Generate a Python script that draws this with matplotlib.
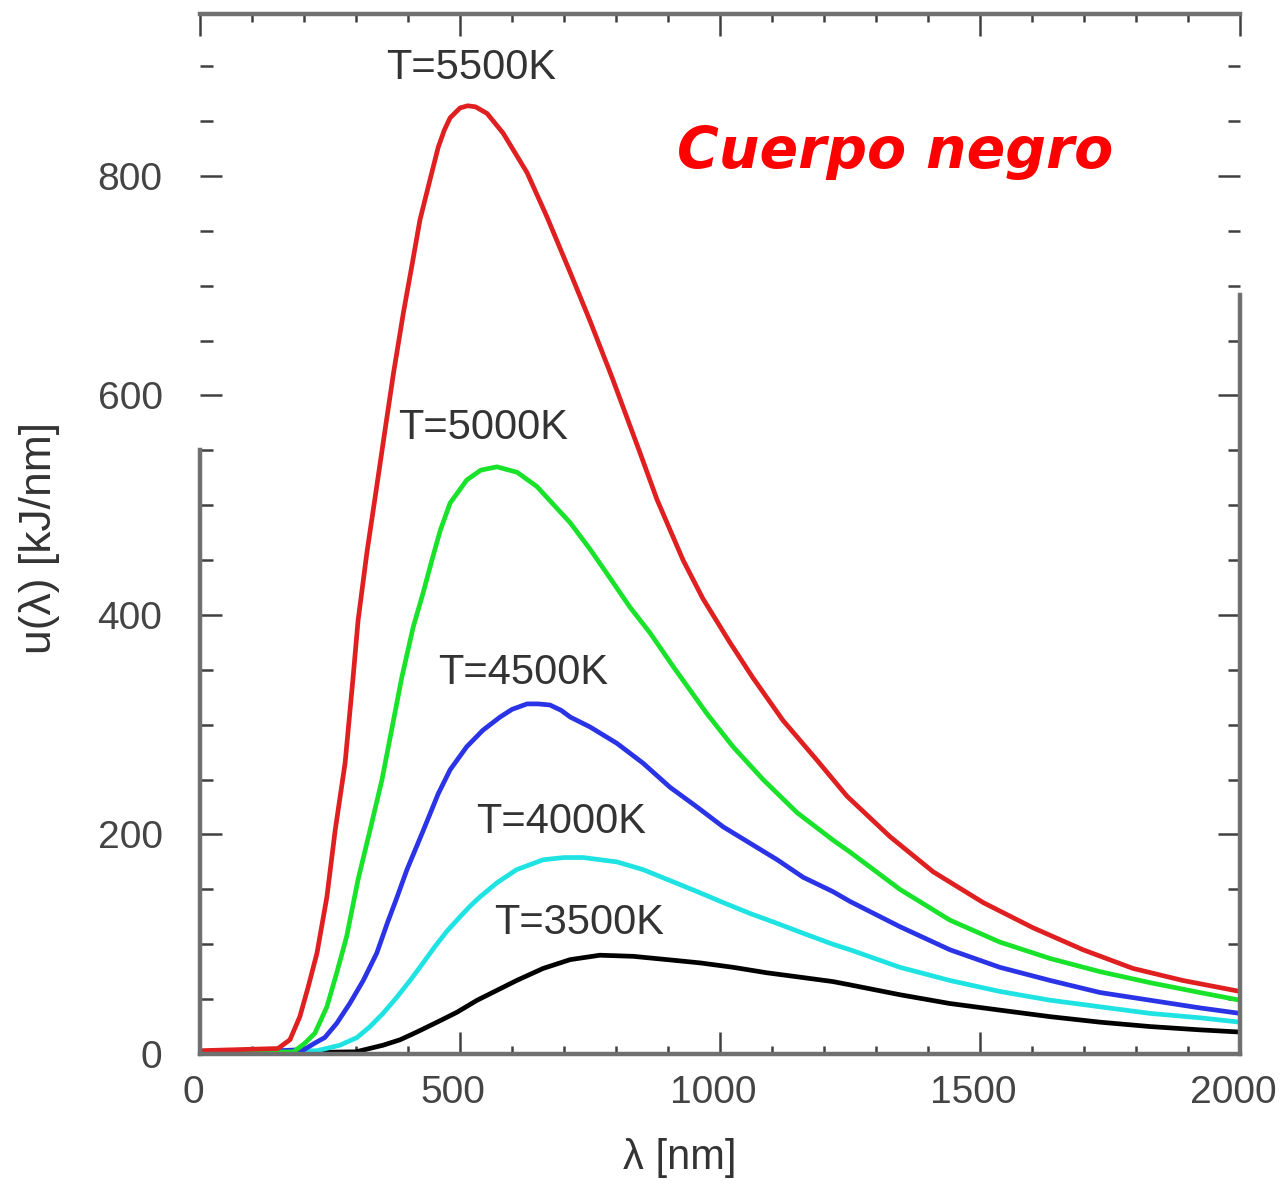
import matplotlib
matplotlib.use('Agg')
import matplotlib.pyplot as plt
import matplotlib.transforms as mtransforms
from matplotlib.ticker import MultipleLocator

# Spectral energy density, one curve per temperature
wl_5500 = [0, 150, 173, 192, 208, 225, 244, 260, 279, 294, 304, 321, 337, 356, 372, 391, 407, 423,
           442, 458, 470, 481, 500, 515, 530, 552, 583, 629, 667, 712, 750, 792, 846, 879, 929, 967,
           1019, 1063, 1121, 1186, 1244, 1327, 1410, 1506, 1602, 1698, 1794, 1890, 2000]
u_5500 = [3, 5, 13, 34, 61, 92, 143, 204, 265, 341, 395, 457, 508, 569, 620, 675, 717, 760,
          796, 826, 842, 853, 862, 864, 863, 857, 839, 803, 763, 712, 668, 617, 548, 505, 450, 415,
          375, 343, 304, 268, 235, 198, 166, 138, 115, 95, 78, 67, 57]

wl_5000 = [0, 180, 202, 221, 244, 263, 282, 304, 327, 350, 388, 410, 429, 446, 462, 481, 513, 540,
           571, 610, 648, 712, 750, 788, 827, 865, 910, 975, 1025, 1083, 1148, 1217, 1250, 1346,
           1442, 1538, 1635, 1731, 1827, 1923, 2000]
u_5000 = [0, 2, 10, 19, 43, 74, 107, 159, 204, 250, 343, 389, 420, 450, 477, 502, 523, 532,
          535, 530, 517, 484, 460, 434, 407, 384, 353, 310, 280, 250, 220, 195, 184, 150,
          122, 102, 87, 75, 65, 56, 49]

wl_4500 = [0, 200, 221, 240, 263, 288, 314, 340, 360, 379, 398, 427, 446, 458, 481, 513, 544, 577,
           600, 629, 650, 673, 695, 712, 750, 802, 852, 904, 956, 1006, 1058, 1110, 1160, 1217,
           1250, 1346, 1442, 1538, 1635, 1731, 1827, 1923, 2000]
u_4500 = [0, 4, 10, 15, 28, 46, 67, 92, 119, 143, 168, 201, 223, 237, 259, 280, 295, 307,
          314, 319, 319, 318, 313, 307, 298, 283, 265, 243, 225, 207, 192, 177, 161, 148,
          139, 116, 95, 79, 67, 56, 49, 42, 37]

wl_4000 = [0, 225, 269, 302, 327, 352, 379, 404, 429, 452, 475, 500, 520, 538, 571, 609, 660, 700,
           737, 802, 852, 904, 956, 1006, 1058, 1110, 1160, 1217, 1250, 1346, 1442, 1538, 1635,
           1731, 1827, 1923, 2000]
u_4000 = [0, 3, 8, 15, 25, 37, 52, 67, 83, 98, 112, 125, 135, 143, 156, 168, 177, 179,
          179, 175, 168, 158, 148, 138, 128, 119, 110, 100, 95, 79, 67, 57, 49,
          43, 37, 33, 29]

wl_3500 = [0, 300, 352, 385, 417, 456, 494, 533, 571, 609, 660, 712, 769, 833, 898, 962, 1025, 1090,
           1154, 1217, 1250, 1346, 1442, 1538, 1635, 1731, 1827, 1923, 2000]
u_3500 = [0, 2, 8, 13, 20, 29, 38, 49, 58, 67, 78, 86, 90, 89, 86, 83, 79, 74,
          70, 66, 63, 54, 46, 40, 34, 29, 25, 22, 20]

curve_labels = ['T=5500K', 'T=5000K', 'T=4500K', 'T=4000K', 'T=3500K']
label_pos = [(471, 68), (483, 428), (523, 673), (561, 822), (579, 923)]   # pixel centres

W, H = 1285, 1186
fig = plt.figure(figsize=(W / 100, H / 100), dpi=100)
ax = fig.add_axes([200 / W, 1 - 1054 / H, 1040 / W, 1040 / H])

# draw cold curves first so red sits on top
line_kw = dict(lw=3.4, solid_joinstyle='round', solid_capstyle='butt')
ax.plot(wl_3500, u_3500, color='#000000', **line_kw)
ax.plot(wl_4000, u_4000, color='#1fe3e3', **line_kw)
ax.plot(wl_4500, u_4500, color='#2b33e6', **line_kw)
ax.plot(wl_5000, u_5000, color='#19e22b', **line_kw)
ax.plot(wl_5500, u_5500, color='#e01f20', **line_kw)

ax.set_xlim(0, 2000)
ax.set_ylim(0, 947.6)

# frame: grey, side lines only partly visible like the scan
spine_col = '#707070'
for s in ax.spines.values():
    s.set_color(spine_col)
    s.set_linewidth(3.2)
ax.spines['left'].set_bounds(0, 550)
ax.spines['right'].set_bounds(0, 692)

ax.xaxis.set_major_locator(MultipleLocator(500))
ax.xaxis.set_minor_locator(MultipleLocator(100))
ax.yaxis.set_major_locator(MultipleLocator(200))
ax.yaxis.set_minor_locator(MultipleLocator(50))
ax.tick_params(which='both', direction='in', top=True, right=True, color='#404040',
               labelcolor='#444444', labelsize=28, labelfontfamily='Liberation Sans')
ax.tick_params(axis='x', which='major', length=16, width=1.8, pad=15)
ax.tick_params(axis='x', which='minor', length=6, width=1.8)
ax.tick_params(axis='y', which='major', length=16, width=1.8, pad=27)
ax.tick_params(axis='y', which='minor', length=9, width=1.8)

shift = mtransforms.ScaledTranslation(-7 / 100, 0, fig.dpi_scale_trans)
for lbl in ax.get_xticklabels():
    lbl.set_transform(lbl.get_transform() + shift)

ax.set_xlabel('λ [nm]', fontsize=30, color='#333333', family=['Liberation Sans', 'DejaVu Sans'])
ax.set_ylabel('u(λ) [kJ/nm]', fontsize=32, color='#333333', family=['Liberation Sans', 'DejaVu Sans'])
ax.xaxis.set_label_coords((680 - 200) / 1040, (1054 - 1138) / 1040)
ax.yaxis.set_label_coords((60 - 200) / 1040, (1054 - 538) / 1040)

for txt, (px, py) in zip(curve_labels, label_pos):
    fig.text(px / W, 1 - py / H, txt, fontsize=30, color='#333333',
             family='Liberation Sans', ha='center', va='center')

fig.text(895 / W, 1 - 168 / H, 'Cuerpo negro', fontsize=41, color='#ff0000',
         fontweight='bold', fontstyle='italic', family='DejaVu Sans',
         ha='center', va='baseline')

fig.savefig('out.png', dpi=100)
